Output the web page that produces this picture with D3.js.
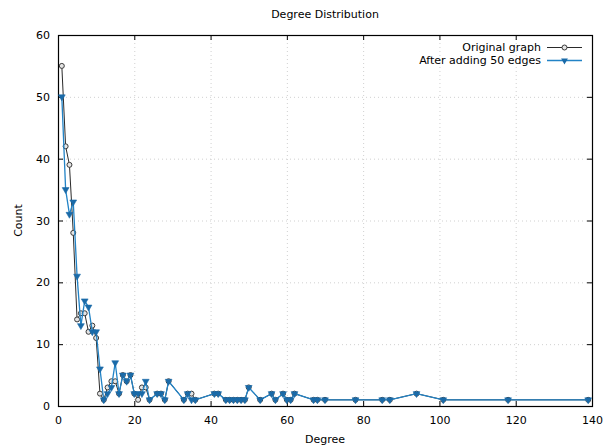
<!DOCTYPE html>
<html lang="en">
<head>
  <meta charset="utf-8">
  <title>Degree Distribution</title>
  <script src="https://cdn.jsdelivr.net/npm/d3@7"></script>
</head>
<style>
body {
  margin: 0;
  font-family: "DejaVu Sans", sans-serif;
  background: white;
}
text {
  font-size: 11px;
  fill: #000;
}
</style>
<body>
<script>
// degree -> count, original graph
var origDegree = [1,2,3,4,5,6,7,8,9,10,11,12,13,14,15,16,17,18,19,20,21,22,23,24,26,27,28,29,33,34,35,36,41,42,44,45,46,47,48,49,50,53,56,57,59,60,61,62,67,68,70,78,85,87,94,101,118,139];
var origCount  = [55,42,39,28,14,15,15,12,13,11,2,1,3,4,4,2,5,4,5,2,1,3,3,1,2,2,1,4,1,2,2,1,2,2,1,1,1,1,1,1,3,1,2,1,2,1,1,2,1,1,1,1,1,1,2,1,1,1];

// after adding 50 edges
var newDegree = [1,2,3,4,5,6,7,8,9,10,11,12,13,14,15,16,17,18,19,20,21,22,23,24,26,27,28,29,33,34,35,36,41,42,44,45,46,47,48,49,50,53,56,57,59,60,61,62,67,68,70,78,85,87,94,101,118,139];
var newCount  = [50,35,31,33,21,13,17,16,12,12,6,1,2,3,7,2,5,4,5,2,2,2,4,1,2,2,1,4,1,2,1,1,2,2,1,1,1,1,1,1,3,1,2,1,2,1,1,2,1,1,1,1,1,1,2,1,1,1];

var xTicks = [0,20,40,60,80,100,120,140];
var yTicks = [0,10,20,30,40,50,60];

var w = 613, h = 446;
var margin = {left: 58, right: 21, top: 35, bottom: 40};
var pw = w - margin.left - margin.right;
var ph = h - margin.top - margin.bottom;

var svg = d3.select("body").append("svg")
  .attr("width", w)
  .attr("height", h);

var x = d3.scaleLinear().domain([0, 140]).range([margin.left, margin.left + pw]);
var y = d3.scaleLinear().domain([0, 60]).range([margin.top + ph, margin.top]);

// grid
var grid = svg.append("g");
grid.selectAll(".gx").data(xTicks.slice(1, -1)).enter().append("line")
  .attr("x1", d => x(d) + 0.5).attr("x2", d => x(d) + 0.5)
  .attr("y1", margin.top).attr("y2", margin.top + ph)
  .attr("stroke", "#d0d0d0").attr("stroke-dasharray", "1,3");
grid.selectAll(".gy").data(yTicks.slice(1, -1)).enter().append("line")
  .attr("y1", d => y(d) + 0.5).attr("y2", d => y(d) + 0.5)
  .attr("x1", margin.left).attr("x2", margin.left + pw)
  .attr("stroke", "#d0d0d0").attr("stroke-dasharray", "1,3");

// axes with inward ticks, mirrored
var gx = svg.append("g").attr("transform", "translate(0," + (margin.top + ph) + ")")
  .call(d3.axisBottom(x).tickValues(xTicks).tickSizeInner(-5).tickSizeOuter(0).tickPadding(10));
var gx2 = svg.append("g").attr("transform", "translate(0," + margin.top + ")")
  .call(d3.axisTop(x).tickValues(xTicks).tickSizeInner(-5).tickSizeOuter(0).tickFormat(""));
var gy = svg.append("g").attr("transform", "translate(" + margin.left + ",0)")
  .call(d3.axisLeft(y).tickValues(yTicks).tickSizeInner(-5).tickSizeOuter(0).tickPadding(8));
var gy2 = svg.append("g").attr("transform", "translate(" + (margin.left + pw) + ",0)")
  .call(d3.axisRight(y).tickValues(yTicks).tickSizeInner(-5).tickSizeOuter(0).tickFormat(""));
[gx, gx2, gy, gy2].forEach(function(g) {
  g.select(".domain").remove();
  g.selectAll("line").attr("stroke", "#000");
  g.selectAll("text").style("font-family", "DejaVu Sans").style("font-size", "11px").attr("fill", "#000");
});

// frame
svg.append("rect")
  .attr("x", margin.left + 0.5).attr("y", margin.top + 0.5)
  .attr("width", pw).attr("height", ph)
  .attr("fill", "none").attr("stroke", "#000").attr("stroke-width", 1.2);

// series
var line = d3.line().x(d => x(d[0])).y(d => y(d[1]));
var orig = d3.zip(origDegree, origCount);
var after = d3.zip(newDegree, newCount);

var tri = d3.symbol().type(d3.symbolTriangle).size(20);

svg.append("path").datum(orig).attr("d", line)
  .attr("fill", "none").attr("stroke", "#2a2a2a").attr("stroke-width", 1);
svg.selectAll(".po").data(orig).enter().append("circle")
  .attr("cx", d => x(d[0])).attr("cy", d => y(d[1])).attr("r", 2.5)
  .attr("fill", "#e4e4e4").attr("stroke", "#3a3a3a").attr("stroke-width", 1);

svg.append("path").datum(after).attr("d", line)
  .attr("fill", "none").attr("stroke", "#2283c6").attr("stroke-width", 1.3);
svg.selectAll(".pa").data(after).enter().append("path")
  .attr("d", tri)
  .attr("transform", d => "translate(" + x(d[0]) + "," + y(d[1]) + ") rotate(180)")
  .attr("fill", "#1a6aa8").attr("stroke", "#1a6aa8").attr("stroke-width", 0.6);

// legend
var lg = svg.append("g");
lg.append("text").attr("x", 541).attr("y", 51).attr("text-anchor", "end").text("Original graph");
lg.append("line").attr("x1", 547).attr("x2", 582).attr("y1", 47.5).attr("y2", 47.5)
  .attr("stroke", "#2a2a2a").attr("stroke-width", 1);
lg.append("circle").attr("cx", 564.5).attr("cy", 47.5).attr("r", 2.5)
  .attr("fill", "#e4e4e4").attr("stroke", "#3a3a3a");
lg.append("text").attr("x", 541).attr("y", 64).attr("text-anchor", "end").text("After adding 50 edges");
lg.append("line").attr("x1", 547).attr("x2", 582).attr("y1", 60.5).attr("y2", 60.5)
  .attr("stroke", "#2283c6").attr("stroke-width", 1.3);
lg.append("path").attr("d", tri)
  .attr("transform", "translate(564.5,60.5) rotate(180)").attr("fill", "#1a6aa8");

// titles
svg.append("text").attr("x", x(70)).attr("y", 18).attr("text-anchor", "middle").text("Degree Distribution");
svg.append("text").attr("x", x(70)).attr("y", 443).attr("text-anchor", "middle").text("Degree");
svg.append("text").attr("transform", "translate(22," + y(30) + ") rotate(-90)")
  .attr("text-anchor", "middle").text("Count");
</script>
</body>
</html>
